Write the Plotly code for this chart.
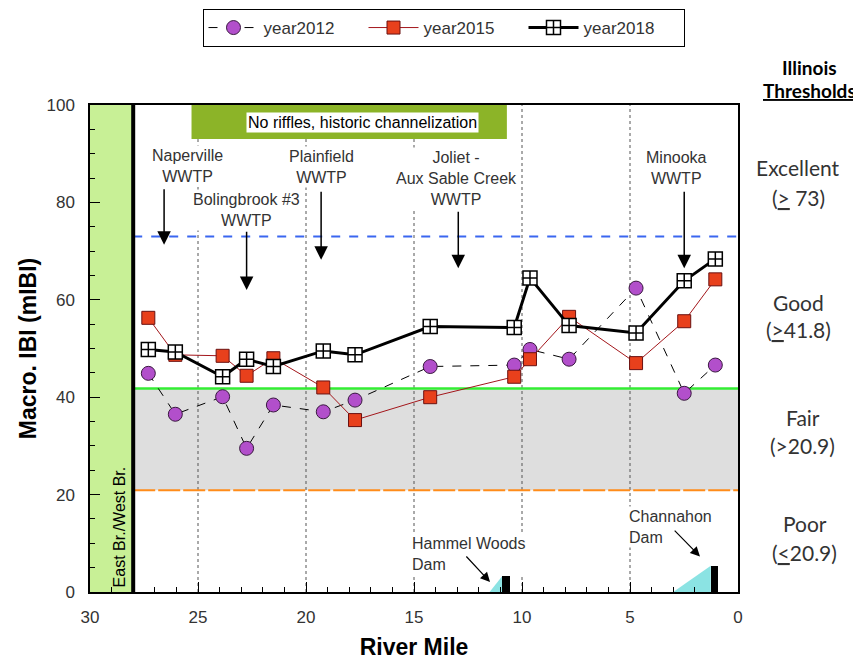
import plotly.graph_objects as go

# ---------------- data ----------------
miles = [27.3, 26.05, 23.86, 22.75, 21.51, 19.2, 17.73, 14.25, 10.36, 9.63, 7.82, 4.72, 2.49, 1.05]
year2012 = [44.9, 36.5, 40.1, 29.5, 38.4, 37.0, 39.4, 46.3, 46.6, 49.8, 47.8, 62.4, 40.8, 46.6]
year2015 = [56.3, 48.7, 48.5, 44.4, 48.0, 42.0, 35.3, 40.0, 44.2, 47.8, 56.5, 47.0, 55.6, 64.2]
year2018 = [49.8, 49.3, 44.2, 47.8, 46.3, 49.5, 48.7, 54.5, 54.3, 64.5, 54.7, 53.2, 63.9, 68.4]

thresholds = [73, 41.8, 20.9]
threshold_labels = [("Excellent", "(<u>></u> 73)"), ("Good", "(<u>></u>41.8)"),
                    ("Fair", "(>20.9)"), ("Poor", "(<u><</u>20.9)")]
x_ticks = [30, 25, 20, 15, 10, 5, 0]
y_ticks = [0, 20, 40, 60, 80, 100]

dam_miles = [10.75, 1.08]
dam_heights = [3.2, 5.4]
dam_names = ["Hammel Woods<br>Dam", "Channahon<br>Dam"]

wwtp_names = ["Naperville<br>WWTP", "Bolingbrook #3<br>WWTP", "Plainfield<br>WWTP",
              "Joliet -<br>Aux Sable Creek<br>WWTP", "Minooka<br>WWTP"]
wwtp_miles = [26.57, 22.75, 19.3, 12.95, 2.49]
confluence_mile = 28.0
segment_lines = [25, 20, 15, 10, 5]

FONT = "Liberation Sans, Arial, sans-serif"
RF = "Lato, Carlito, sans-serif"
TXT = "#333333"

# page has an 8px body margin: shrink figure so the plot area lands where the reference has it
OFF = 8
W, H = 861 - OFF, 660 - OFF
L, R, T, B = 90, 738, 105, 592  # plot area in reference window pixels


def px_to_paper(px, py):
    return (px - L) / (R - L), (B - py) / (B - T)


fig = go.Figure()

fig.add_trace(go.Scatter(
    x=miles, y=year2012, name="year2012", mode="lines+markers",
    line=dict(color="black", width=1, dash="dash"),
    marker=dict(symbol="circle", size=14, color="#b24fcb", line=dict(color="#3a1a40", width=1))))
fig.add_trace(go.Scatter(
    x=miles, y=year2015, name="year2015", mode="lines+markers",
    line=dict(color="#a3161b", width=1),
    marker=dict(symbol="square", size=13, color="#e8401c", line=dict(color="#6a1010", width=1))))
fig.add_trace(go.Scatter(
    x=miles, y=year2018, name="year2018", mode="lines+markers",
    line=dict(color="black", width=3),
    marker=dict(symbol="square-cross", size=14, color="white", line=dict(color="black", width=1.5))))

# dams as bars
fig.add_trace(go.Bar(x=dam_miles, y=dam_heights, width=0.35, marker=dict(color="black", line=dict(width=0)),
                     showlegend=False, hoverinfo="skip"))

shapes = []
shapes.append(dict(type="rect", xref="x", yref="y", x0=30, x1=confluence_mile, y0=0, y1=100,
                   fillcolor="rgb(200,240,150)", line=dict(width=0), layer="below"))
shapes.append(dict(type="rect", xref="x", yref="y", x0=confluence_mile, x1=0, y0=thresholds[2], y1=thresholds[1],
                   fillcolor="rgb(222,222,222)", line=dict(width=0), layer="below"))
for m in segment_lines:
    top = 93 if 10.7 < m < 25.3 else 100
    shapes.append(dict(type="line", xref="x", yref="y", x0=m, x1=m, y0=0, y1=top,
                       line=dict(color="#555555", width=1, dash="dot"), layer="below"))
shapes.append(dict(type="line", xref="x", yref="y", x0=confluence_mile, x1=0, y0=thresholds[0], y1=thresholds[0],
                   line=dict(color="#3a66f0", width=2, dash="dash"), layer="below"))
shapes.append(dict(type="line", xref="x", yref="y", x0=confluence_mile, x1=0, y0=thresholds[1], y1=thresholds[1],
                   line=dict(color="#33ee33", width=2.5), layer="below"))
shapes.append(dict(type="line", xref="x", yref="y", x0=confluence_mile, x1=0, y0=thresholds[2], y1=thresholds[2],
                   line=dict(color="#ff8c1a", width=2, dash="22px,3px"), layer="below"))
shapes.append(dict(type="rect", xref="x", yref="y", x0=25.3, x1=10.7, y0=93, y1=100,
                   fillcolor="rgb(140,180,40)", line=dict(width=0), layer="below"))
ramp_starts = [11.5, 3.0]
for rs, dm, dh in zip(ramp_starts, dam_miles, dam_heights):
    shapes.append(dict(type="path", xref="x", yref="y",
                       path=f"M {rs} 0 L {dm + 0.18} {dh} L {dm + 0.18} 0 Z",
                       fillcolor="rgba(110,220,220,0.8)", line=dict(width=0), layer="below"))
shapes.append(dict(type="line", xref="x", yref="y", x0=confluence_mile, x1=confluence_mile, y0=0, y1=100,
                   line=dict(color="black", width=4)))

ann = []
ann.append(dict(x=17.4, y=96.4, xref="x", yref="y", text="No riffles, historic channelization",
                showarrow=False, bgcolor="white", borderpad=1, font=dict(family=FONT, size=16, color="black")))
ann.append(dict(x=28.62, y=0.6, xref="x", yref="y", text="East Br./West Br.", textangle=-90,
                showarrow=False, xanchor="center", yanchor="bottom",
                font=dict(family=FONT, size=16, color="black")))

# WWTP labels and arrows
wwtp_text_pos = [(25.49, 87.5), (22.75, 78.4), (19.26, 87.3), (13.03, 85.0), (2.87, 87.0)]
arrow_tails = [83.0, 74.3, 82.5, 78.4, 82.5]
arrow_tips = [71.3, 62.0, 68.2, 66.5, 66.5]
for name, (tx, ty), m, t0, t1 in zip(wwtp_names, wwtp_text_pos, wwtp_miles, arrow_tails, arrow_tips):
    ann.append(dict(x=tx, y=ty, xref="x", yref="y", text=name, showarrow=False, bgcolor="white",
                    font=dict(family=FONT, size=16, color=TXT)))
    ann.append(dict(x=m, y=t1, ax=m, ay=t0, xref="x", yref="y", axref="x", ayref="y", text="",
                    showarrow=True, arrowhead=2, arrowsize=1.8, arrowwidth=1.5, arrowcolor="black"))

# dam labels and arrows
dam_text_pos = [(15.19, 7.8), (5.16, 13.3)]
dam_arrow = [((12.64, 7.6), (11.48, 2.05)), ((3.0, 12.9), (1.76, 7.3))]
for name, (tx, ty), ((ax_, ay_), (hx, hy)) in zip(dam_names, dam_text_pos, dam_arrow):
    ann.append(dict(x=tx, y=ty, xref="x", yref="y", text=name, showarrow=False, bgcolor="white",
                    xanchor="left", align="left", font=dict(family=FONT, size=16, color=TXT)))
    ann.append(dict(x=hx, y=hy, ax=ax_, ay=ay_, xref="x", yref="y", axref="x", ayref="y", text="",
                    showarrow=True, arrowhead=2, arrowsize=1.6, arrowwidth=1.2, arrowcolor="black"))

# right-side thresholds (one annotation per line, pixel positions from reference)
right_lines = [("<b>Illinois</b>", 809, 67, 19), ("<b><u>Thresholds</u></b>", 809, 91, 19)]
thr_pix = [((798, 167), (798, 197)), ((798, 302), (798, 329)),
           ((803, 417), (803, 445)), ((805, 523), (805, 552))]
for (l1, l2), (p1, p2) in zip(threshold_labels, thr_pix):
    right_lines.append((l1, p1[0], p1[1], 21))
    right_lines.append((l2, p2[0], p2[1], 21))
for text, px, py, fs in right_lines:
    xp, yp = px_to_paper(px, py)
    ann.append(dict(x=xp, y=yp, xref="paper", yref="paper", text=text, showarrow=False,
                    xanchor="center", yanchor="middle",
                    font=dict(family=RF, size=fs, color="black" if "<b>" in text else TXT)))

lx, ly = px_to_paper(443.5, 9)

fig.update_layout(
    width=W, height=H,
    margin=dict(l=L - OFF, r=W - (R - OFF), t=T - OFF, b=H - (B - OFF), autoexpand=False),
    paper_bgcolor="white", plot_bgcolor="white",
    font=dict(family=FONT, color=TXT),
    shapes=shapes, annotations=ann,
    showlegend=True,
    legend=dict(orientation="h", x=lx, xanchor="center", y=ly, yanchor="top",
                bordercolor="black", borderwidth=1, bgcolor="white", itemwidth=50,
                entrywidth=95, font=dict(family=FONT, size=17, color=TXT)),
    xaxis=dict(range=[30, 0], tickvals=x_ticks, ticks="inside", ticklen=10, tickcolor="black",
               showline=True, linecolor="black", linewidth=1.5, mirror=True, showgrid=False, zeroline=False,
               minor=dict(dtick=1, ticks="inside", ticklen=5, tickcolor="black", showgrid=False),
               tickfont=dict(family=FONT, size=17, color=TXT), ticklabelstandoff=9,
               title=dict(text="<b>River Mile</b>", font=dict(family=FONT, size=23, color="black"), standoff=18)),
    yaxis=dict(range=[0, 100], tickvals=y_ticks, ticks="inside", ticklen=10, tickcolor="black",
               showline=True, linecolor="black", linewidth=1.5, mirror=True, showgrid=False, zeroline=False,
               minor=dict(dtick=5, ticks="inside", ticklen=5, tickcolor="black", showgrid=False),
               tickfont=dict(family=FONT, size=17, color=TXT), ticklabelstandoff=10,
               title=dict(text="<b>Macro. IBI (mIBI)</b>", font=dict(family=FONT, size=23, color="black"), standoff=3)),
    bargap=0,
)

fig.write_html("out.html")
